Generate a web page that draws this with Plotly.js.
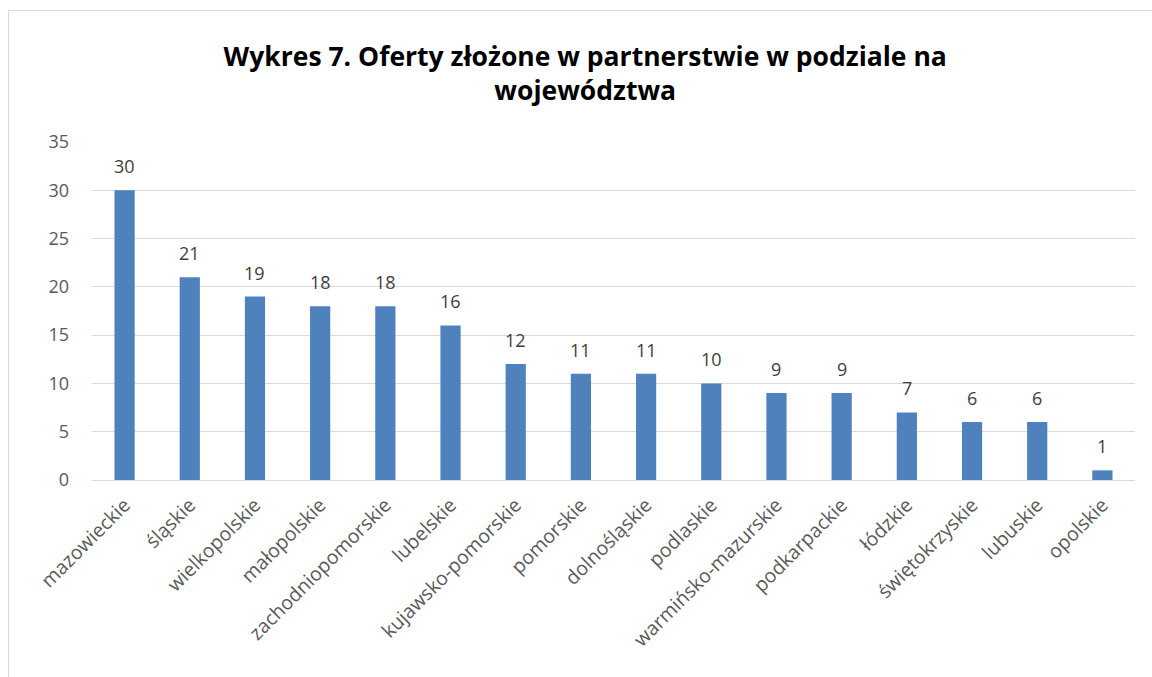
<!DOCTYPE html>
<html><head><meta charset="utf-8">
<script src="https://cdn.plot.ly/plotly-3.0.1.min.js"></script>
<style>html,body{margin:0;padding:0;background:#fff}#c{width:1152px;height:677px}</style>
</head><body><div id="c"></div>
<script>
const categories = ["mazowieckie","śląskie","wielkopolskie","małopolskie","zachodniopomorskie","lubelskie","kujawsko-pomorskie","pomorskie","dolnośląskie","podlaskie","warmińsko-mazurskie","podkarpackie","łódzkie","świętokrzyskie","lubuskie","opolskie"];
const values = [30,21,19,18,18,16,12,11,11,10,9,9,7,6,6,1];
const yTicks = [0,5,10,15,20,25,30,35];
const titleText = "Wykres 7. Oferty złożone w partnerstwie w podziale na<br>województwa";

const font = "Open Sans, Noto Sans, sans-serif";
const labels = categories.map((c, i) => ({
  x: c, y: values[i], xref: "x", yref: "y", text: String(values[i]),
  showarrow: false, yanchor: "bottom", yshift: 10,
  font: {family: font, size: 18, color: "#404040"}
}));
Plotly.newPlot("c", [{
  type: "bar", x: categories, y: values,
  marker: {color: "#4f81bd"},
  hoverinfo: "none"
}], {
  width: 1152, height: 677,
  margin: {l: 92, r: 17, t: 142, b: 197},
  paper_bgcolor: "#fff", plot_bgcolor: "#fff",
  bargap: 0.69,
  showlegend: false,
  title: {text: titleText, x: 0.508, xanchor: "center", y: 1 - 66/677, yanchor: "middle",
    font: {family: font, size: 26.5, color: "#000", weight: "bold"}},
  xaxis: {type: "category", tickangle: -45, showgrid: false,
    showline: true, linecolor: "#d9d9d9", linewidth: 1, ticks: "", ticklabelstandoff: 5,
    tickfont: {family: font, size: 19.5, color: "#595959"}},
  yaxis: {range: [0, 35], tickvals: yTicks, ticktext: yTicks.map(String),
    showgrid: true, gridcolor: "#d9d9d9", gridwidth: 1, zeroline: true, zerolinecolor: "#d9d9d9",
    ticks: "", ticklabelstandoff: 22, showline: false,
    tickfont: {family: font, size: 18, color: "#595959"}},
  annotations: labels,
  shapes: [{type: "rect", xref: "paper", yref: "paper",
    x0: (8.5-92)/1043, x1: (1165-92)/1043, y0: (480-690)/338, y1: (480-10.5)/338,
    line: {color: "#d9d9d9", width: 1}, fillcolor: "rgba(0,0,0,0)", layer: "below"}]
}, {staticPlot: true});
</script></body></html>
